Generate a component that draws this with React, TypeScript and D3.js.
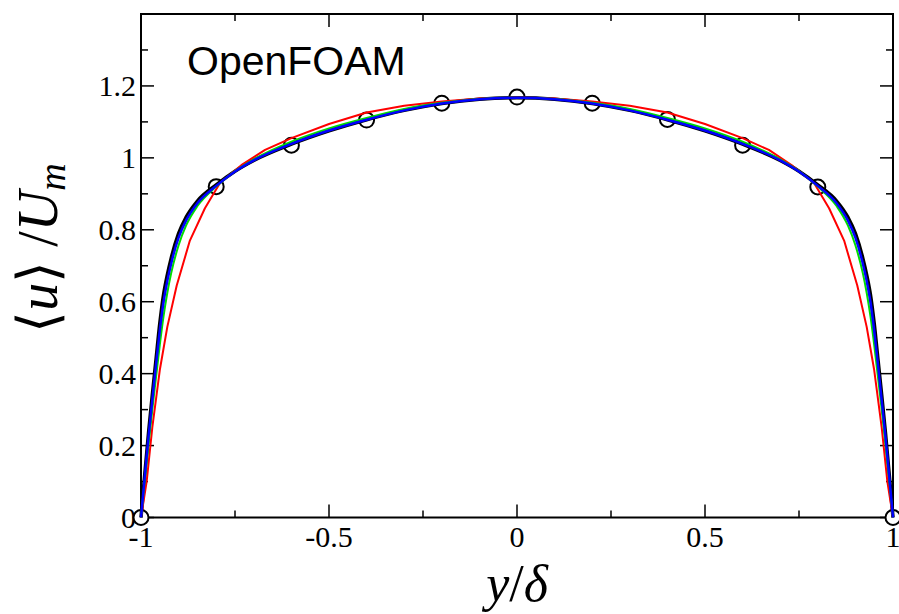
import React from "react";
import * as d3 from "d3";

// wall-normal positions (y/delta) for the fine-mesh series
const yFine = [
  -1, -0.995, -0.99, -0.98, -0.97, -0.96, -0.95, -0.94, -0.93, -0.92, -0.9, -0.88, -0.85, -0.8, -0.75, -0.7,
  -0.6, -0.5, -0.4, -0.3, -0.2, -0.1, 0, 0.1, 0.2, 0.3, 0.4, 0.5, 0.6, 0.7, 0.75, 0.8, 0.85, 0.88, 0.9,
  0.92, 0.93, 0.94, 0.95, 0.96, 0.97, 0.98, 0.99, 0.995, 1,
];
const uBlack = [
  0, 0.06, 0.12, 0.235, 0.34, 0.44, 0.54, 0.62, 0.675, 0.72, 0.79, 0.835, 0.88, 0.925, 0.963, 0.993,
  1.038, 1.075, 1.106, 1.132, 1.151, 1.163, 1.167, 1.163, 1.151, 1.132, 1.106, 1.075, 1.038, 0.993, 0.963,
  0.925, 0.88, 0.835, 0.79, 0.72, 0.675, 0.62, 0.54, 0.44, 0.34, 0.235, 0.12, 0.06, 0,
];
const uBlue = [
  0, 0.057, 0.114, 0.225, 0.325, 0.425, 0.52, 0.6, 0.658, 0.705, 0.778, 0.826, 0.874, 0.922, 0.962, 0.993,
  1.039, 1.076, 1.106, 1.132, 1.151, 1.163, 1.167, 1.163, 1.151, 1.132, 1.106, 1.076, 1.039, 0.993, 0.962,
  0.922, 0.874, 0.826, 0.778, 0.705, 0.658, 0.6, 0.52, 0.425, 0.325, 0.225, 0.114, 0.057, 0,
];
const uGreen = [
  0, 0.052, 0.104, 0.205, 0.3, 0.39, 0.48, 0.56, 0.625, 0.678, 0.757, 0.812, 0.866, 0.92, 0.963, 0.996,
  1.045, 1.082, 1.111, 1.136, 1.153, 1.164, 1.167, 1.164, 1.153, 1.136, 1.111, 1.082, 1.045, 0.996, 0.963,
  0.92, 0.866, 0.812, 0.757, 0.678, 0.625, 0.56, 0.48, 0.39, 0.3, 0.205, 0.104, 0.052, 0,
];
// coarse mesh series (red)
const yRed = [
  -1, -0.985, -0.97, -0.95, -0.93, -0.905, -0.87, -0.83, -0.79, -0.73, -0.67, -0.6, -0.5, -0.4, -0.3, -0.2,
  -0.1, 0, 0.1, 0.2, 0.3, 0.4, 0.5, 0.6, 0.67, 0.73, 0.79, 0.83, 0.87, 0.905, 0.93, 0.95, 0.97, 0.985, 1,
];
const uRed = [
  0, 0.1, 0.25, 0.41, 0.53, 0.645, 0.77, 0.86, 0.93, 0.982, 1.022, 1.055, 1.094, 1.126, 1.145, 1.157,
  1.165, 1.168, 1.165, 1.157, 1.145, 1.126, 1.094, 1.055, 1.022, 0.98, 0.93, 0.86, 0.77, 0.645, 0.53, 0.41,
  0.25, 0.1, 0,
];
// reference points (circles)
const yRef = [-1, -0.8, -0.6, -0.4, -0.2, 0, 0.2, 0.4, 0.6, 0.8, 1];
const uRef = [0, 0.92, 1.035, 1.105, 1.152, 1.169, 1.152, 1.107, 1.035, 0.919, 0];

const xMajor = [-1, -0.5, 0, 0.5, 1];
const xMajorLabels = ["-1", "-0.5", "0", "0.5", "1"];
const xMinor = [-0.75, -0.25, 0.25, 0.75];
const yMajor = [0, 0.2, 0.4, 0.6, 0.8, 1, 1.2];
const yMajorLabels = ["0", "0.2", "0.4", "0.6", "0.8", "1", "1.2"];
const yMinor = [0.1, 0.3, 0.5, 0.7, 0.9, 1.1, 1.3];

export default function App() {
  const W = 899;
  const H = 614;
  const L = 141, R = 893, T = 14, B = 517.5;
  const x = d3.scaleLinear().domain([-1, 1]).range([L, R]);
  const y = d3.scaleLinear().domain([0, 1.4]).range([B, T]);

  const smooth = d3
    .line<[number, number]>()
    .x((d) => x(d[0]))
    .y((d) => y(d[1]))
    .curve(d3.curveMonotoneX);
  const linear = d3
    .line<[number, number]>()
    .x((d) => x(d[0]))
    .y((d) => y(d[1]));

  const zip = (a: number[], b: number[]) => a.map((v, i) => [v, b[i]] as [number, number]);

  const serif = "'Liberation Serif', 'Times New Roman', serif";
  const majLen = 13, minLen = 7;

  return (
    <svg width={W} height={H} style={{ position: "absolute", left: 0, top: 0, background: "#fff" }}>
      <rect x={0} y={0} width={W} height={H} fill="#fff" />
      {/* ticks */}
      <g stroke="#000" strokeWidth={1.5}>
        {xMajor.map((v) => (
          <g key={"xm" + v}>
            <line x1={x(v)} x2={x(v)} y1={B} y2={B - majLen} />
            <line x1={x(v)} x2={x(v)} y1={T} y2={T + majLen} />
          </g>
        ))}
        {xMinor.map((v) => (
          <g key={"xn" + v}>
            <line x1={x(v)} x2={x(v)} y1={B} y2={B - minLen} />
            <line x1={x(v)} x2={x(v)} y1={T} y2={T + minLen} />
          </g>
        ))}
        {yMajor.map((v) => (
          <g key={"ym" + v}>
            <line x1={L} x2={L + majLen} y1={y(v)} y2={y(v)} />
            <line x1={R} x2={R - majLen} y1={y(v)} y2={y(v)} />
          </g>
        ))}
        {yMinor.map((v) => (
          <g key={"yn" + v}>
            <line x1={L} x2={L + minLen} y1={y(v)} y2={y(v)} />
            <line x1={R} x2={R - minLen} y1={y(v)} y2={y(v)} />
          </g>
        ))}
      </g>
      {/* frame */}
      <rect x={L} y={T} width={R - L} height={B - T} fill="none" stroke="#000" strokeWidth={2} />

      {/* tick labels */}
      <g fontFamily={serif} fontSize={30} fill="#000">
        {xMajor.map((v, i) => (
          <text key={"xl" + v} x={x(v)} y={547} textAnchor="middle">
            {xMajorLabels[i]}
          </text>
        ))}
        {yMajor.map((v, i) => (
          <text key={"yl" + v} x={136} y={y(v) + 10.5} textAnchor="end">
            {yMajorLabels[i]}
          </text>
        ))}
      </g>

      {/* reference circles */}
      <g>
        {yRef.map((v, i) => (
          <circle key={"c" + i} cx={x(v)} cy={y(uRef[i])} r={7.5} fill="#fff" stroke="#000" strokeWidth={2} />
        ))}
      </g>

      {/* lines */}
      <path d={smooth(zip(yFine, uBlack)) || ""} fill="none" stroke="#000" strokeWidth={3.5} />
      <path d={linear(zip(yRed, uRed)) || ""} fill="none" stroke="#ff0000" strokeWidth={2} strokeLinejoin="round" />
      <path d={smooth(zip(yFine, uGreen)) || ""} fill="none" stroke="#00dd00" strokeWidth={2} />
      <path d={smooth(zip(yFine, uBlue)) || ""} fill="none" stroke="#0000ff" strokeWidth={2.5} />

      {/* annotation */}
      <text x={187} y={75} fontFamily="'Liberation Sans', Arial, sans-serif" fontSize={41} fill="#000">
        OpenFOAM
      </text>

      {/* axis titles */}
      <text
        transform="translate(57,248) rotate(-90)"
        textAnchor="middle"
        fontFamily={serif}
        fontStyle="italic"
        fontSize={56}
        fill="#000"
      >
        <tspan fontStyle="normal">⟨</tspan>
        <tspan>u</tspan>
        <tspan fontStyle="normal">⟩</tspan>
        <tspan fontStyle="normal"> /</tspan>
        <tspan>U</tspan>
        <tspan fontSize={38} dy={8}>m</tspan>
      </text>
      <text x={517} y={601} textAnchor="middle" fontFamily={serif} fontStyle="italic" fontSize={52} fill="#000">
        <tspan>y</tspan>
        <tspan fontStyle="normal">/</tspan>
        <tspan>δ</tspan>
      </text>
    </svg>
  );
}
